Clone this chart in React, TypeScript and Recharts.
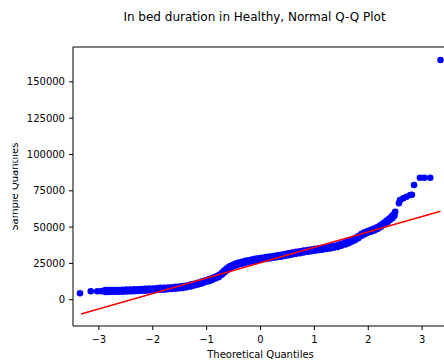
import { ScatterChart, Scatter, XAxis, YAxis, ReferenceLine } from 'recharts'

// isolated markers at both ends of the sample
const TAIL_X = [-3.35, -3.15, -3.03, -2.95,
  2.5, 2.57, 2.59, 2.65, 2.71, 2.78, 2.81, 2.85, 2.96, 3.04, 3.15, 3.34]
const TAIL_Y = [4400, 5800, 5800, 5900,
  60600, 66500, 68700, 69800, 70900, 72100, 72300, 79000, 84000, 84000, 84000, 165000]

// dense part of the Q-Q band
const BAND_X = [-2.88, -2.82, -2.76, -2.7, -2.63, -2.56, -2.49, -2.42, -2.35, -2.28,
  -2.21, -2.14, -2.07, -2.0, -1.93, -1.86, -1.79, -1.72, -1.65, -1.58,
  -1.51, -1.44, -1.37, -1.3, -1.23, -1.16, -1.09, -1.02, -0.96, -0.9,
  -0.84, -0.78, -0.72, -0.67, -0.62, -0.57, -0.52, -0.46, -0.4, -0.34,
  -0.28, -0.22, -0.16, -0.1, -0.04, 0.03, 0.1, 0.17, 0.24, 0.31,
  0.38, 0.45, 0.52, 0.59, 0.66, 0.73, 0.8, 0.87, 0.94, 1.01,
  1.08, 1.15, 1.22, 1.29, 1.36, 1.43, 1.5, 1.57, 1.63, 1.69,
  1.75, 1.81, 1.87, 1.93, 1.99, 2.05, 2.11, 2.17, 2.23, 2.29,
  2.35, 2.4, 2.44, 2.47]
const BAND_Y = [6000, 6000, 6100, 6100, 6100, 6200, 6300, 6400, 6500, 6600,
  6800, 6900, 7000, 7100, 7300, 7500, 7600, 7800, 8000, 8200,
  8500, 8800, 9200, 9800, 10400, 11100, 11900, 12800, 13400, 14300,
  15200, 16200, 17800, 19500, 21000, 22300, 23300, 24200, 24900, 25500,
  26100, 26600, 27100, 27500, 27900, 28300, 28700, 29100, 29500, 29900,
  30300, 30800, 31300, 31800, 32300, 32700, 33200, 33600, 34000, 34400,
  34800, 35100, 35500, 35900, 36400, 37000, 37800, 38700, 39600, 40500,
  41600, 43000, 44600, 45800, 46700, 47500, 48300, 49400, 50800, 52300,
  54000, 55500, 56800, 58000]

// fitted reference line end points
const LINE_X = [-3.33, 3.34]
const LINE_Y = [-9850, 60900]

const X_TICKS = [-3, -2, -1, 0, 1, 2, 3]
const Y_TICKS = [0, 25000, 50000, 75000, 100000, 125000, 150000]

const tail = TAIL_X.map((x, i) => ({ x, y: TAIL_Y[i] }))
const band = BAND_X.map((x, i) => ({ x, y: BAND_Y[i] }))
const fit = LINE_X.map((x, i) => ({ x, y: LINE_Y[i] }))

const font = 'DejaVu Sans'
const minus = (v: number) => String(v).replace('-', '\u2212')

export default function App() {
  return (
    <div style={{ position: 'fixed', left: 0, top: 0, width: 444, height: 361, overflow: 'hidden', background: '#fff', fontFamily: font }}>
      <ScatterChart width={460} height={361} margin={{ top: 47, right: 12, bottom: 0, left: 0 }}>
        <XAxis
          type="number" dataKey="x" domain={[-3.48, 3.48]} ticks={X_TICKS} allowDataOverflow
          height={35} tickSize={4} tickMargin={6} stroke="#000" tickFormatter={minus}
          tick={{ fill: '#000', fontSize: 10, fontFamily: font }}
          label={{ value: 'Theoretical Quantiles', position: 'insideBottom', offset: 3, fill: '#000', fontSize: 10, fontFamily: font }}
        />
        <YAxis
          type="number" dataKey="y" domain={[-18100, 174000]} ticks={Y_TICKS} allowDataOverflow
          width={73} tickSize={4} tickMargin={4} stroke="#000"
          tick={{ fill: '#000', fontSize: 10, fontFamily: font }}
        />
        <ReferenceLine y={174000} stroke="#000" />
        <Scatter data={band} isAnimationActive={false}
          shape={(p: any) => <circle cx={p.cx} cy={p.cy} r={4.2} fill="#0000ff" />} />
        <Scatter data={tail} isAnimationActive={false}
          shape={(p: any) => <circle cx={p.cx} cy={p.cy} r={3.3} fill="#0000ff" />} />
        <Scatter data={fit} isAnimationActive={false} line={{ stroke: '#ff0000', strokeWidth: 1.5 }}
          shape={() => <g />} />
      </ScatterChart>
      <svg width={444} height={361} style={{ position: 'absolute', left: 0, top: 0, pointerEvents: 'none' }}>
        <defs>
          <clipPath id="ylab">
            <rect x={12.7} y={0} width={30} height={361} />
          </clipPath>
        </defs>
        <text x={254.5} y={20.7} textAnchor="middle" fontSize={12} fontFamily={font} fill="#000">
          In bed duration in Healthy, Normal Q-Q Plot
        </text>
        <g clipPath="url(#ylab)">
          <text x={18} y={186.7} transform="rotate(-90 18 186.7)" textAnchor="middle" fontSize={10} fontFamily={font} fill="#000">
            Sample Quantiles
          </text>
        </g>
      </svg>
    </div>
  )
}
